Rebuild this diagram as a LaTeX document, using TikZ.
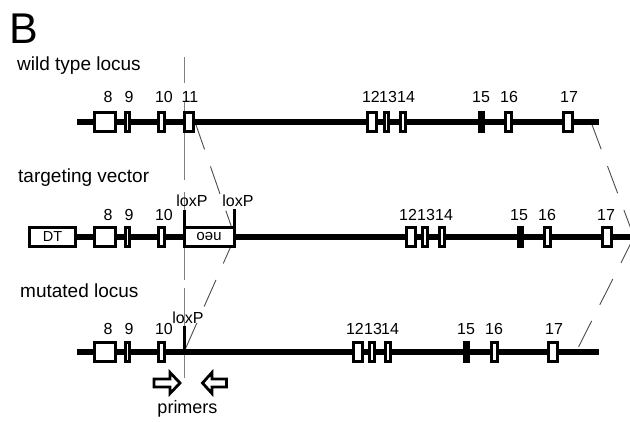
\documentclass[tikz,border=0pt]{standalone}
\usepackage{fontspec}
\setmainfont{Liberation Sans}
\begin{document}
\begin{tikzpicture}[x=1pt,y=-1pt,
  exon/.style={draw, line width=3pt, fill=white, minimum height=18.5pt,
               inner sep=0pt, outer sep=0pt},
  solidexon/.style={exon, fill=black},
  backbone/.style={line width=6pt},
  loxline/.style={line width=3pt},
  guide/.style={draw=black!70, line width=0.9pt, dash pattern=on 29pt off 18pt},
  vguide/.style={draw=black!50, line width=0.9pt,
                 dash pattern=on 26pt off 18pt on 79pt off 12pt on 88pt off 8pt on 95pt off 10pt},
  num/.style={font=\fontsize{16}{16}\selectfont, anchor=base, inner sep=0pt},
  rowtitle/.style={font=\fontsize{19}{19}\selectfont, anchor=base west, inner sep=0pt},
  loxlabel/.style={font=\fontsize{16}{16}\selectfont, anchor=base, inner sep=0pt},
  primer/.style={draw, line width=2.8pt, fill=white, line join=miter}
]
\useasboundingbox (0,0) rectangle (630,421);
\clip (0,0) rectangle (630,421);

% panel letter and row titles
\node[font=\fontsize{43}{43}\selectfont, anchor=base west, inner sep=0pt] (panel) at (9,43) {B};
\node[rowtitle] (twt) at (17,70) {wild type locus};
\node[rowtitle] (ttv) at (18,182) {targeting vector};
\node[rowtitle] (tmu) at (20,297) {mutated locus};

% reference points of the three loci
\coordinate (wS) at (77,122);  \coordinate (wE) at (599,122);
\coordinate (vS) at (77,237);  \coordinate (vE) at (640,237);
\coordinate (mS) at (77,352);  \coordinate (mE) at (599,352);
\coordinate (loxB) at (235,237);
\coordinate (mlox) at (184,352);
\coordinate (wCut) at (591,122);
\coordinate (vCut) at (634,237);
\coordinate (mCut) at (576,352);
\coordinate (vtop) at (184,57);
\coordinate (vbot) at (184,378);

% alignment guides
\draw[vguide] (vtop) -- (vbot);
\draw[guide] (195,122) -- (loxB);
\draw[guide] (loxB) -- (mlox);
\draw[guide] (wCut) -- (vCut);
\draw[guide] (vCut) -- (mCut);

% ---------- wild type locus ----------
\draw[backbone] (wS) -- (wE);
\node[exon, minimum width=21pt]  (w8)  at (105,122) {};
\node[exon, minimum width=4.5pt] (w9)  at (127.5,122) {};
\node[exon, minimum width=6pt]   (w10) at (161.5,122) {};
\node[exon, minimum width=9pt]   (w11) at (189,122) {};
\node[exon, minimum width=9pt]   (w12) at (372,122) {};
\node[exon, minimum width=4.5pt] (w13) at (386.5,122) {};
\node[exon, minimum width=5pt]   (w14) at (403,122) {};
\node[solidexon, minimum width=4pt] (w15) at (481.5,122) {};
\node[exon, minimum width=6pt]   (w16) at (508.5,122) {};
\node[exon, minimum width=9pt]   (w17) at (568,122) {};
\foreach \t/\x in {8/108,9/129,10/164,11/190,12/371,13/388,14/406,15/481,16/509,17/569}
  \node[num] (wl\t) at (\x,102) {\t};

% ---------- targeting vector ----------
\draw[backbone] (vS) -- (vE);
\node[exon, minimum width=46pt, font=\fontsize{14.5}{14.5}\selectfont] (dt) at (52.5,237) {DT};
\node[exon, minimum width=21pt]  (v8)  at (105,237) {};
\node[exon, minimum width=4.5pt] (v9)  at (127.5,237) {};
\node[exon, minimum width=6pt]   (v10) at (161.5,237) {};
\node[exon, minimum width=50pt]  (neo) at (209.5,237) {};
\node[font=\fontsize{15}{15}\selectfont, rotate=180, inner sep=0pt] (neotxt) at (209,236) {neo};
\node[exon, minimum width=9pt]   (v12) at (410.5,237) {};
\node[exon, minimum width=4.5pt] (v13) at (425,237) {};
\node[exon, minimum width=5pt]   (v14) at (441.5,237) {};
\node[solidexon, minimum width=4pt] (v15) at (520,237) {};
\node[exon, minimum width=6pt]   (v16) at (547,237) {};
\node[exon, minimum width=9pt]   (v17) at (606.5,237) {};
\draw[loxline] (neo.north west) -- +(0,-18);
\draw[loxline] (neo.south east) -- +(0,-37);
\node[loxlabel] (vlx1) at (192,206) {loxP};
\node[loxlabel] (vlx2) at (238,206) {loxP};
\foreach \t/\x in {8/108,9/129,10/164,12/408,13/426,14/444,15/519,16/547,17/606}
  \node[num] (vl\t) at (\x,220) {\t};

% ---------- mutated locus ----------
\draw[backbone] (mS) -- (mE);
\node[exon, minimum width=21pt]  (m8)  at (105,352) {};
\node[exon, minimum width=4.5pt] (m9)  at (127.5,352) {};
\node[exon, minimum width=6pt]   (m10) at (161.5,352) {};
\node[exon, minimum width=9pt]   (m12) at (357.5,352) {};
\node[exon, minimum width=4.5pt] (m13) at (372,352) {};
\node[exon, minimum width=5pt]   (m14) at (388,352) {};
\node[solidexon, minimum width=4pt] (m15) at (466,352) {};
\node[exon, minimum width=6pt]   (m16) at (494,352) {};
\node[exon, minimum width=9pt]   (m17) at (552.5,352) {};
\draw[loxline] (mlox) -- +(0,-26);
\node[loxlabel] (mlx) at (188,323) {loxP};
\foreach \t/\x in {8/108,9/129,10/164,12/355,13/373,14/390,15/466,16/494,17/554}
  \node[num] (ml\t) at (\x,334) {\t};

% primer arrows
\draw[primer] (154,379) -- (170,379) -- (170,372.5) -- (180,383) -- (170,393.5)
              -- (170,387) -- (154,387) -- cycle;
\draw[primer] (226.5,379) -- (212,379) -- (212,372.5) -- (202.5,383) -- (212,393.5)
              -- (212,387) -- (226.5,387) -- cycle;
\node[font=\fontsize{18}{18}\selectfont, anchor=base, inner sep=0pt] (primers) at (187.5,413) {primers};
\end{tikzpicture}
\end{document}
